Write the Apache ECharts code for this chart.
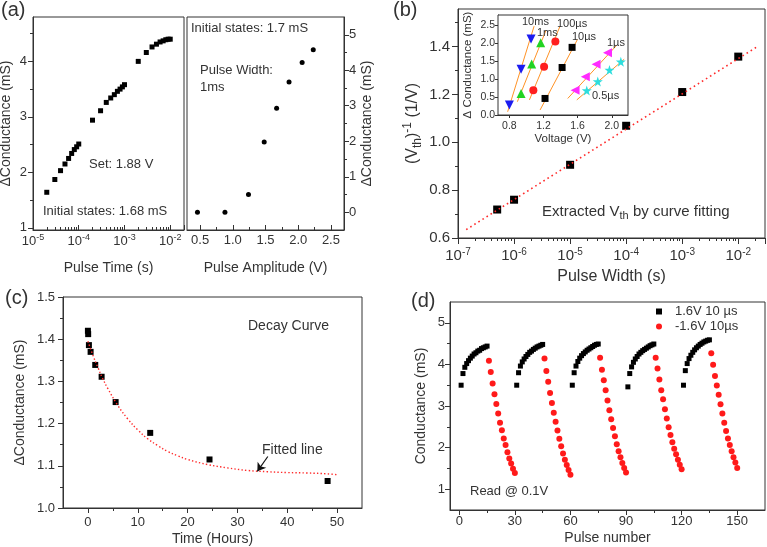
<!DOCTYPE html>
<html><head><meta charset="utf-8">
<script src="https://cdn.jsdelivr.net/npm/echarts@6/dist/echarts.min.js"></script>
<style>html,body{margin:0;padding:0;background:#fff}#c{width:767px;height:547px}</style>
</head><body><div id="c"></div>
<script>
// ---------- (a) left: conductance vs pulse time ----------
const aPulseTime = [2e-5,3e-5,4e-5,5e-5,6e-5,7e-5,8e-5,9e-5,1e-4,2e-4,3e-4,4e-4,5e-4,6e-4,7e-4,8e-4,9e-4,1e-3,2e-3,3e-3,4e-3,5e-3,6e-3,7e-3,8e-3,9e-3,1e-2];
const aDeltaG1 = [1.64,1.87,2.03,2.15,2.25,2.34,2.41,2.46,2.51,2.94,3.11,3.26,3.34,3.40,3.46,3.50,3.54,3.58,4.00,4.16,4.26,4.31,4.35,4.37,4.39,4.40,4.40];
const aDeltaG1Ticks = [1,2,3,4];
const aDeltaG1Minor = [1.5,2.5,3.5,4.5];
// ---------- (a) right: conductance vs pulse amplitude ----------
const aAmplitude = [0.46,0.88,1.24,1.48,1.67,1.86,2.06,2.23];
const aDeltaG2 = [0.0,0.0,0.5,1.98,2.93,3.67,4.22,4.58];
const aAmpTicks = [0.5,1.0,1.5,2.0,2.5];
const aAmpMinor = [0.75,1.25,1.75,2.25];
const aDeltaG2Ticks = [0,1,2,3,4,5];
const aDeltaG2Minor = [0.5,1.5,2.5,3.5,4.5];
// ---------- (b) 1/Vth vs pulse width ----------
const bPulseWidth = [5e-7,1e-6,1e-5,1e-4,1e-3,1e-2];
const bInvVth = [0.719,0.760,0.906,1.069,1.210,1.358];
const bFitWidth = [1.4e-7,2.3e-2];
const bFitInvVth = [0.635,1.403];
const bInvTicks = [0.6,0.8,1.0,1.2,1.4];
const bInvMinor = [0.7,0.9,1.1,1.3,1.5];
// ---------- (b) inset ----------
const insetNames = ['10ms','1ms','100µs','10µs','1µs','0.5µs'];
const insetVoltage = [[0.80,0.937,1.054],[0.937,1.062,1.167],[1.081,1.207,1.339],[1.218,1.418,1.535],[1.57,1.69,1.816,1.95],[1.707,1.836,1.973,2.106]];
const insetDeltaG = [[0.28,1.27,2.11],[0.60,1.42,2.01],[0.69,1.34,2.04],[0.46,1.32,1.88],[0.69,1.06,1.41,1.73],[0.68,0.93,1.25,1.48]];
const insetFitVoltage = [[0.78,1.09],[0.894,1.23],[1.035,1.394],[1.16,1.598],[1.484,2.058],[1.59,2.145]];
const insetFitDeltaG = [[0.09,2.47],[0.37,2.36],[0.42,2.47],[0.14,2.10],[0.46,1.94],[0.42,1.55]];
const insetVTicks = [0.8,1.2,1.6,2.0];
const insetGTicks = [0.0,0.5,1.0,1.5,2.0,2.5];
// ---------- (c) decay ----------
const cTime = [0,0.05,0.2,0.54,1.47,2.75,5.56,12.5,24.4,48.1];
const cDeltaG = [1.420,1.412,1.386,1.370,1.339,1.311,1.251,1.178,1.115,1.064];
const cFitTime = [0,1,2,3,4,6,8,10,12,14,16,18,20,24,28,32,36,40,44,48,50];
const cFitDeltaG = [1.395,1.362,1.333,1.306,1.283,1.243,1.211,1.185,1.164,1.148,1.134,1.124,1.115,1.103,1.095,1.089,1.086,1.084,1.083,1.081,1.079];
const cTimeTicks = [0,10,20,30,40,50];
const cTimeMinor = [5,15,25,35,45];
const cDeltaGTicks = [1.0,1.1,1.2,1.3,1.4,1.5];
const cDeltaGMinor = [1.05,1.15,1.25,1.35,1.45];
const cArrow = [[36.1,1.122],[34.0,1.087]];
// ---------- (d) potentiation / depression ----------
const dSetPulse = [1,2,3,4,5,6,7,8,9,10,11,12,13,14,15, 31,32,33,34,35,36,37,38,39,40,41,42,43,44,45, 61,62,63,64,65,66,67,68,69,70,71,72,73,74,75, 91,92,93,94,95,96,97,98,99,100,101,102,103,104,105, 121,122,123,124,125,126,127,128,129,130,131,132,133,134,135];
const dSetG = [3.50,3.78,3.93,4.02,4.09,4.15,4.20,4.25,4.28,4.32,4.34,4.38,4.40,4.42,4.44,
  3.50,3.80,3.96,4.06,4.13,4.19,4.24,4.29,4.32,4.36,4.39,4.42,4.44,4.46,4.48,
  3.50,3.80,3.96,4.07,4.15,4.21,4.26,4.30,4.34,4.37,4.40,4.43,4.46,4.48,4.49,
  3.46,3.78,3.94,4.05,4.13,4.19,4.25,4.29,4.33,4.36,4.39,4.42,4.45,4.47,4.49,
  3.50,3.85,4.02,4.14,4.22,4.29,4.35,4.40,4.44,4.48,4.51,4.54,4.56,4.58,4.59];
const dResetPulse = [16,17,18,19,20,21,22,23,24,25,26,27,28,29,30, 46,47,48,49,50,51,52,53,54,55,56,57,58,59,60, 76,77,78,79,80,81,82,83,84,85,86,87,88,89,90, 106,107,108,109,110,111,112,113,114,115,116,117,118,119,120, 136,137,138,139,140,141,142,143,144,145,146,147,148,149,150];
const dResetG = [4.09,3.82,3.54,3.28,3.05,2.82,2.60,2.42,2.22,2.06,1.89,1.74,1.62,1.49,1.39,
  4.14,3.84,3.58,3.31,3.07,2.84,2.62,2.41,2.21,2.03,1.86,1.71,1.58,1.46,1.35,
  4.16,3.87,3.62,3.38,3.13,2.90,2.68,2.47,2.27,2.08,1.91,1.77,1.63,1.51,1.40,
  4.16,3.90,3.64,3.38,3.16,2.92,2.70,2.49,2.30,2.13,1.97,1.84,1.71,1.59,1.48,
  4.27,3.99,3.72,3.49,3.27,3.04,2.82,2.60,2.40,2.22,2.06,1.91,1.77,1.64,1.51];
const dPulseTicks = [0,30,60,90,120,150];
const dPulseMinor = [15,45,75,105,135];
const dGTicks = [1,2,3,4,5];
const dGMinor = [1.5,2.5,3.5,4.5];
const dLegend = ['1.6V 10 µs','-1.6V 10µs'];

// ---------- styling helpers ----------
const FONT = '"Liberation Sans", Arial, Helvetica, sans-serif';
const AX = '#333';
const TXT = '#333';
function logMinor(e0, e1, maxV) {
  const out = [];
  for (let e = e0; e <= e1; e++) for (let k = 2; k <= 9; k++) { const v = k * Math.pow(10, e); if (v < maxV) out.push(Math.log10(v)); }
  return out;
}
function logFmt(v) { const e = Math.log10(v), r = Math.round(e); return Math.abs(e - r) < 1e-6 ? '10{s|' + r + '}' : ''; }
const f1 = v => Number(v).toFixed(1);
const supRich = fs => ({ s: { fontSize: fs, fontFamily: FONT, color: TXT, padding: [0, 0, Math.round(fs * 0.8), 0] } });

const xAxis = [], yAxis = [];
function axis(list, o) {
  const isLog = o.type === 'log';
  const main = {
    type: o.type || 'value', gridIndex: o.g, min: o.min, max: o.max, position: o.pos, logBase: 10,
    axisLine: { show: true, onZero: false, lineStyle: { color: AX, width: 1 } },
    axisTick: { show: true, inside: !!o.inside, length: o.tl || 5, lineStyle: { color: AX, width: 1 } },
    axisLabel: { show: true, color: TXT, fontFamily: FONT, fontSize: o.fs, margin: o.margin, formatter: o.fmt, rich: o.rich, hideOverlap: false, showMinLabel: true, showMaxLabel: true },
    splitLine: { show: false }, minorTick: { show: false }, minorSplitLine: { show: false },
    name: o.name, nameLocation: 'middle', nameGap: o.nameGap, nameMoveOverlap: false,
    nameTextStyle: { color: TXT, fontFamily: FONT, fontSize: o.nfs, rich: o.nrich },
    z: 3
  };
  if (!isLog && o.ticks) { main.axisTick.customValues = o.ticks; main.axisLabel.customValues = o.ticks; }
  const idx = list.length; list.push(main);
  if (o.minor) list.push({
    type: 'value', gridIndex: o.g, min: o.mmin != null ? o.mmin : o.min, max: o.mmax != null ? o.mmax : o.max, position: o.pos,
    axisLine: { show: false, onZero: false }, axisLabel: { show: false }, splitLine: { show: false },
    axisTick: { show: true, inside: !!o.inside, length: 3, customValues: o.minor, lineStyle: { color: AX, width: 1 } }, z: 3
  });
  return idx;
}

const grids = [
  { left: 33, top: 17, width: 151, height: 213 },
  { left: 187, top: 17, width: 157, height: 213 },
  { left: 458, top: 9, width: 307, height: 229 },
  { left: 498, top: 15, width: 130, height: 100 },
  { left: 63, top: 297, width: 299, height: 211 },
  { left: 450, top: 302, width: 315, height: 208 }
].map((g, i) => Object.assign({ show: true, borderColor: AX, borderWidth: 1, backgroundColor: i === 3 ? '#fff' : 'transparent', containLabel: false, outerBoundsMode: 'none', z: i === 3 ? 5 : 0 }, g));

// (a) left
const axAlx = axis(xAxis, { g: 0, type: 'log', min: 1e-5, max: 0.02, pos: 'bottom', inside: true, fs: 13, margin: 3, fmt: logFmt, rich: supRich(9),
  minor: logMinor(-5, -3, 0.02), mmin: -5, mmax: Math.log10(0.02), name: 'Pulse Time (s)', nameGap: 31, nfs: 14 });
const axAly = axis(yAxis, { g: 0, min: 0.96, max: 4.8, pos: 'left', ticks: aDeltaG1Ticks, minor: aDeltaG1Minor, fs: 13, margin: 6,
  name: 'ΔConductance (mS)', nameGap: 20, nfs: 14 });
// (a) right
const axArx = axis(xAxis, { g: 1, min: 0.3, max: 2.7, pos: 'bottom', inside: true, ticks: aAmpTicks, minor: aAmpMinor, fs: 13, margin: 4, fmt: f1,
  name: 'Pulse Amplitude (V)', nameGap: 31, nfs: 14 });
const axAry = axis(yAxis, { g: 1, min: -0.5, max: 5.5, pos: 'right', ticks: aDeltaG2Ticks, minor: aDeltaG2Minor, fs: 13, margin: 5,
  name: 'ΔConductance (mS)', nameGap: 16, nfs: 14 });
// (b)
const axBx = axis(xAxis, { g: 2, type: 'log', min: 1e-7, max: 0.03, pos: 'bottom', fs: 15, margin: 9, fmt: logFmt, rich: supRich(10), tl: 6,
  minor: logMinor(-7, -2, 0.03), mmin: -7, mmax: Math.log10(0.03), name: 'Pulse Width (s)', nameGap: 31, nfs: 16 });
const axBy = axis(yAxis, { g: 2, min: 0.6, max: 1.557, pos: 'left', ticks: bInvTicks, minor: bInvMinor, fs: 15, margin: 8, fmt: f1, tl: 6,
  name: '(V{sub|th}){sup|-1} (1/V)', nameGap: 34, nfs: 16,
  nrich: { sub: { fontSize: 12, fontFamily: FONT, color: TXT, padding: [10, 0, 0, 0] }, sup: { fontSize: 12, fontFamily: FONT, color: TXT, padding: [0, 0, 10, 0] } } });
// inset
const axIx = axis(xAxis, { g: 3, min: 0.667, max: 2.19, pos: 'bottom', ticks: insetVTicks, fs: 10.5, margin: 6, fmt: f1, tl: 3,
  name: 'Voltage (V)', nameGap: 18, nfs: 11.5 });
const axIy = axis(yAxis, { g: 3, min: 0, max: 2.78, pos: 'left', ticks: insetGTicks, fs: 10.5, margin: 3, fmt: f1, tl: 3,
  name: 'Δ Conductance (mS)', nameGap: 24, nfs: 11.5 });
// (c)
const axCx = axis(xAxis, { g: 4, min: -5, max: 55, pos: 'bottom', ticks: cTimeTicks, minor: cTimeMinor, fs: 13, margin: 8,
  name: 'Time (Hours)', nameGap: 24, nfs: 14 });
const axCy = axis(yAxis, { g: 4, min: 1.0, max: 1.5, pos: 'left', ticks: cDeltaGTicks, minor: cDeltaGMinor, fs: 13, margin: 8, fmt: f1,
  name: 'ΔConductance (mS)', nameGap: 36, nfs: 14 });
// (d)
const axDx = axis(xAxis, { g: 5, min: -5, max: 165, pos: 'bottom', ticks: dPulseTicks, minor: dPulseMinor, fs: 13, margin: 5,
  name: 'Pulse number', nameGap: 21, nfs: 14 });
const axDy = axis(yAxis, { g: 5, min: 0.5, max: 5.5, pos: 'left', ticks: dGTicks, minor: dGMinor, fs: 13, margin: 5,
  name: 'Conductance (mS)', nameGap: 22, nfs: 14 });

const zip = (xs, ys) => xs.map((x, i) => [x, ys[i]]);
const series = [];
series.push({ type: 'scatter', xAxisIndex: axAlx, yAxisIndex: axAly, symbol: 'rect', symbolSize: 5, itemStyle: { color: '#000', opacity: 1 }, data: zip(aPulseTime, aDeltaG1) });
series.push({ type: 'scatter', xAxisIndex: axArx, yAxisIndex: axAry, symbol: 'circle', symbolSize: 5, itemStyle: { color: '#000', opacity: 1 }, data: zip(aAmplitude, aDeltaG2) });
series.push({ type: 'scatter', xAxisIndex: axBx, yAxisIndex: axBy, symbol: 'rect', symbolSize: 8, itemStyle: { color: '#000', opacity: 1 }, data: zip(bPulseWidth, bInvVth), z: 2 });
series.push({ type: 'line', xAxisIndex: axBx, yAxisIndex: axBy, symbol: 'none', lineStyle: { color: '#ff2a2a', width: 1.6, type: [1.6, 3.2] }, data: zip(bFitWidth, bFitInvVth), z: 4 });

const STAR = 'path://M5,0 L6.2,3.6 L10,3.6 L6.9,5.9 L8.1,9.6 L5,7.4 L1.9,9.6 L3.1,5.9 L0,3.6 L3.8,3.6 Z';
const insetColors = ['#1c1cf0', '#22d322', '#ff1f1f', '#000000', '#ff2bff', '#2ddede'];
const insetSymbols = ['triangle', 'triangle', 'circle', 'rect', 'triangle', STAR];
const insetRot = [180, 0, 0, 0, 90, 0];
const insetSizes = [9, 9, 8, 7, 9, 10];
insetNames.forEach((n, k) => {
  series.push({ type: 'line', xAxisIndex: axIx, yAxisIndex: axIy, symbol: 'none', z: 6, lineStyle: { color: '#ff9326', width: 1 }, data: zip(insetFitVoltage[k], insetFitDeltaG[k]) });
  series.push({ type: 'scatter', xAxisIndex: axIx, yAxisIndex: axIy, z: 7, symbol: insetSymbols[k], symbolRotate: insetRot[k], symbolSize: insetSizes[k], itemStyle: { color: insetColors[k], opacity: 1 }, data: zip(insetVoltage[k], insetDeltaG[k]) });
});

series.push({ type: 'line', xAxisIndex: axCx, yAxisIndex: axCy, symbol: 'none', smooth: 0.4, lineStyle: { color: '#ff2a2a', width: 1.4, type: [1.4, 2.2] }, data: zip(cFitTime, cFitDeltaG),
  markLine: { silent: true, animation: false, symbol: ['none', 'arrow'], symbolSize: 8, lineStyle: { color: '#111', width: 1.2, type: 'solid' }, label: { show: false },
    data: [[{ coord: cArrow[0] }, { coord: cArrow[1] }]] } });
series.push({ type: 'scatter', xAxisIndex: axCx, yAxisIndex: axCy, symbol: 'rect', symbolSize: 6, itemStyle: { color: '#000', opacity: 1 }, data: zip(cTime, cDeltaG) });

series.push({ type: 'scatter', name: dLegend[0], xAxisIndex: axDx, yAxisIndex: axDy, symbol: 'rect', symbolSize: 5, itemStyle: { color: '#000', opacity: 1 }, data: zip(dSetPulse, dSetG) });
series.push({ type: 'scatter', name: dLegend[1], xAxisIndex: axDx, yAxisIndex: axDy, symbol: 'circle', symbolSize: 6, itemStyle: { color: '#ff1a1a', opacity: 1 }, data: zip(dResetPulse, dResetG) });

const txt = (text, left, top, fs, extra) => Object.assign({ type: 'text', left, top, z: 20, style: Object.assign({ text, fontSize: fs, fontFamily: FONT, fill: TXT }, extra || {}) });
const graphic = [
  txt('(a)', 1, 0, 20), txt('(b)', 393, 0, 20), txt('(c)', 5, 288, 20), txt('(d)', 411, 291, 20),
  txt('Set: 1.88 V', 89, 158, 13), txt('Initial states: 1.68 mS', 43, 205, 13),
  txt('Initial states: 1.7 mS', 191, 22, 13), txt('Pulse Width:\n1ms', 200, 62, 13, { lineHeight: 17 }),
  txt('Extracted V{sub|th} by curve fitting', 542, 204, 15, { rich: { sub: { fontSize: 11, fontFamily: FONT, fill: TXT, padding: [9, 0, 0, 0] } } }),
  txt('10ms', 522, 16, 11), txt('1ms', 537, 27, 11), txt('100µs', 557, 18, 11), txt('10µs', 572, 31, 11), txt('1µs', 607, 37, 11), txt('0.5µs', 592, 90, 11),
  txt('Decay Curve', 248, 319, 14), txt('Fitted line', 262, 443, 14), txt('Read @ 0.1V', 470, 485, 13)
];

const chart = echarts.init(document.getElementById('c'), null, { renderer: 'canvas' });
chart.setOption({
  animation: false, backgroundColor: '#fff', textStyle: { fontFamily: FONT },
  grid: grids, xAxis, yAxis, series, graphic,
  legend: { left: 656, top: 305, orient: 'vertical', itemWidth: 6, itemHeight: 6, itemGap: 2, padding: 0, selectedMode: false,
    textStyle: { fontSize: 13, color: TXT, fontFamily: FONT, padding: [0, 0, 0, 8] },
    data: [{ name: dLegend[0], icon: 'rect' }, { name: dLegend[1], icon: 'circle' }] }
});
</script></body></html>
